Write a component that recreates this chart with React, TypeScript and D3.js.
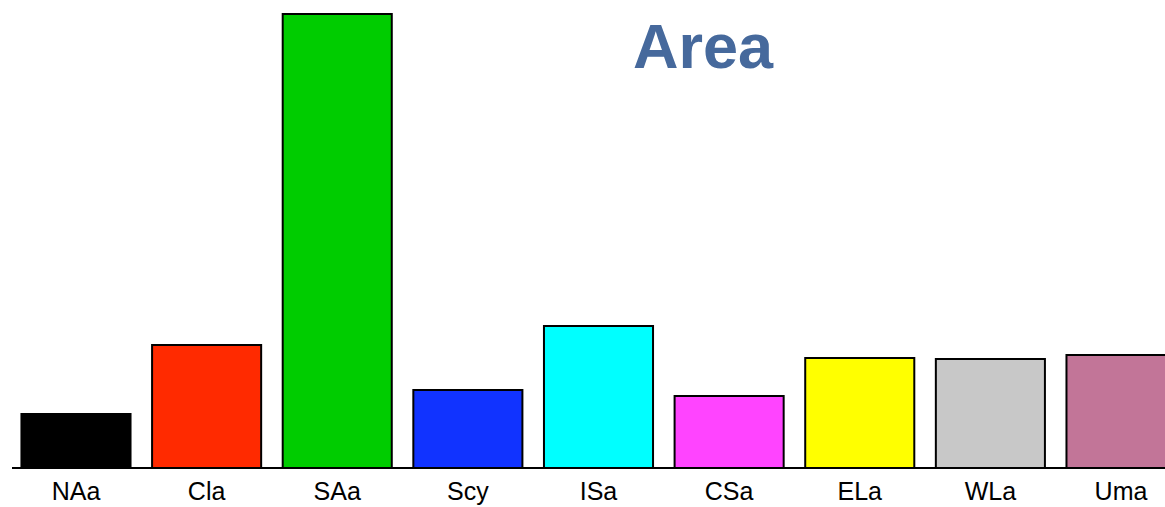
import React from "react";
import * as d3 from "d3";

const categories = ["NAa", "Cla", "SAa", "Scy", "ISa", "CSa", "ELa", "WLa", "Uma"];
const values = [54, 123, 454, 78, 142, 72, 110, 109, 113];
const colors = ["#000000", "#ff2a00", "#00cc00", "#1133ff", "#00ffff", "#ff44ff", "#ffff00", "#c8c8c8", "#c27598"];
const title = "Area";

const W = 1165;
const H = 507;

export default function App() {
  const x = d3
    .scaleBand<string>()
    .domain(categories)
    .range([11, 1186])
    .paddingInner(0.165)
    .paddingOuter(0.08);
  const y = d3.scaleLinear().domain([0, 454]).range([468, 14]);

  return (
    <svg
      width={W}
      height={H}
      style={{ position: "absolute", left: 0, top: 0, background: "#fff" }}
      fontFamily="'Liberation Sans', Arial, Helvetica, sans-serif"
    >
      {categories.map((c, i) => (
        <rect
          key={c}
          x={x(c)!}
          y={y(values[i])}
          width={x.bandwidth()}
          height={y(0) - y(values[i])}
          fill={colors[i]}
          stroke="#000"
          strokeWidth={2}
        />
      ))}
      <line x1={12} x2={W} y1={y(0)} y2={y(0)} stroke="#000" strokeWidth={2} />
      {categories.map((c) => (
        <text
          key={c}
          x={x(c)! + x.bandwidth() / 2}
          y={500}
          textAnchor="middle"
          fontSize={25}
          fill="#000"
        >
          {c}
        </text>
      ))}
      <text
        x={703}
        y={68}
        textAnchor="middle"
        fontSize={63}
        fontWeight="bold"
        fill="#46699c"
      >
        {title}
      </text>
    </svg>
  );
}
